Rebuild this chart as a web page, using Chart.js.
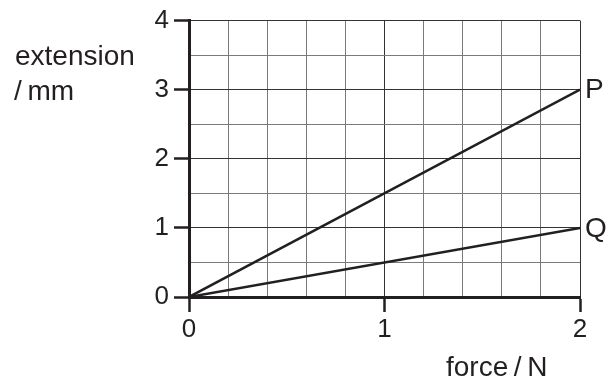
<!DOCTYPE html>
<html>
<head>
<meta charset="utf-8">
<script src="https://cdn.jsdelivr.net/npm/chart.js@4"></script>
<style>
  html, body { margin: 0; padding: 0; background: #fff; }
  #wrap { width: 607px; height: 381px; }
</style>
</head>
<body>
<div id="wrap"><canvas id="myChart" width="607" height="381"></canvas></div>
<script>
// values
var force = [0, 2];          // N
var extensionP = [0, 3];     // mm
var extensionQ = [0, 1];     // mm
var lineNames = ["P", "Q"];
var xTitle = "force\u2009/\u2009N";
var yTitle = ["extension", "/\u2009mm"];

var ink = "#231f20";
var fontFam = '"Liberation Sans", Arial, Helvetica, sans-serif';

function isWhole(v) { return Math.abs(v - Math.round(v)) < 1e-6; }

function pts(ys) {
    return force.map(function (f, i) { return { x: f, y: ys[i] }; });
}

// axis titles and line names are plain text drawn on top
var labelsPlugin = {
    id: "labels",
    afterDraw: function (chart) {
        var c = chart.ctx;
        var xs = chart.scales.x, ys = chart.scales.y;
        c.save();
        c.fillStyle = ink;
        c.font = "28px " + fontFam;
        c.textAlign = "left";
        c.textBaseline = "alphabetic";
        c.fillText(yTitle[0], 15, 65);
        c.fillText(yTitle[1], 14, 100);
        c.fillText(xTitle, 446, 376);
        c.textBaseline = "middle";
        var ends = [extensionP[1], extensionQ[1]];
        for (var i = 0; i < lineNames.length; i++) {
            c.fillText(lineNames[i], xs.getPixelForValue(force[1]) + 5, ys.getPixelForValue(ends[i]) + 1);
        }
        c.restore();
    }
};

var gridColor = function (ctx) {
    return isWhole(ctx.tick.value) ? "#333" : "#7a7a7a";
};
var tickColor = function (ctx) {
    return isWhole(ctx.tick.value) ? ink : "rgba(0,0,0,0)";
};
var tickText = function (v) { return isWhole(v) ? String(Math.round(v)) : ""; };

var dts = [
    { label: "P", data: pts(extensionP), borderColor: ink, borderWidth: 2.5, pointRadius: 0, fill: false, tension: 0 },
    { label: "Q", data: pts(extensionQ), borderColor: ink, borderWidth: 2.5, pointRadius: 0, fill: false, tension: 0 }
];

var canvas = document.getElementById("myChart").getContext("2d");
var chart = new Chart(canvas, {
    type: "line",
    data: { datasets: dts },
    plugins: [labelsPlugin],
    options: {
        responsive: false,
        animation: false,
        layout: { padding: { top: 20, right: 27, left: 0, bottom: 0 } },
        plugins: { legend: { display: false }, tooltip: { enabled: false } },
        scales: {
            x: {
                type: "linear", min: 0, max: 2,
                afterFit: function (s) { s.height = 84; },
                ticks: { stepSize: 0.2, autoSkip: false, maxRotation: 0, padding: 2, color: ink,
                    font: { family: fontFam, size: 26 }, callback: tickText },
                grid: { color: gridColor, lineWidth: 1, tickLength: 15, tickColor: tickColor, tickWidth: 2.5 },
                border: { color: ink, width: 3 }
            },
            y: {
                type: "linear", min: 0, max: 4,
                afterFit: function (s) { s.width = 189; },
                ticks: { stepSize: 0.5, autoSkip: false, padding: 5, color: ink,
                    font: { family: fontFam, size: 26 }, callback: tickText },
                grid: { color: gridColor, lineWidth: 1, tickLength: 15, tickColor: tickColor, tickWidth: 2.5 },
                border: { color: ink, width: 3 }
            }
        }
    }
});
</script>
</body>
</html>
